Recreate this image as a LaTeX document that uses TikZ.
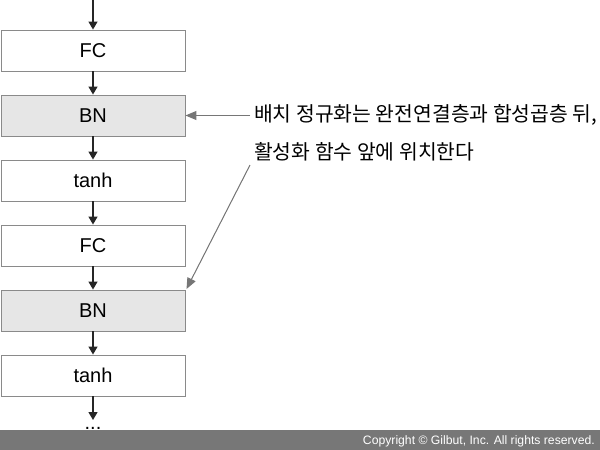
\documentclass[tikz,border=0pt]{standalone}
\usepackage{fontspec}
\setmainfont{Liberation Sans}
\newfontfamily\kr{Noto Sans CJK KR}
\usetikzlibrary{arrows.meta}
\definecolor{boxline}{HTML}{8A8A8A}
\definecolor{bnfill}{HTML}{E6E6E6}
\definecolor{annot}{HTML}{767676}
\definecolor{barcol}{HTML}{777777}
\begin{document}
\begin{tikzpicture}[x=1pt,y=-1pt,
  layer/.style={draw=boxline, line width=0.9pt, minimum width=184pt, minimum height=41pt, inner sep=0pt, font=\fontsize{20}{24}\selectfont, fill=white},
  bnlayer/.style={layer, fill=bnfill},
  flow/.style={-{Triangle[length=8pt,width=9pt]}, line width=1.3pt, draw=black!85},
  note/.style={-{Triangle[length=11pt,width=9pt]}, line width=1pt, draw=annot, fill=annot}
]
\useasboundingbox (0,0) rectangle (600,450);
\node[layer]   (fc1)  at (93,50.5)  {FC};
\node[bnlayer] (bn1)  at (93,115.5) {BN};
\node[layer]   (th1)  at (93,180.5) {tanh};
\node[layer]   (fc2)  at (93,245.5) {FC};
\node[bnlayer] (bn2)  at (93,310.5) {BN};
\node[layer]   (th2)  at (93,375.5) {tanh};
\coordinate (top) at (93,0);
\coordinate (end) at (93,420);
\node[font=\fontsize{20}{24}\selectfont, inner sep=0pt, anchor=base] (dots) at (93,429) {...};
\draw[flow] (top) -- (fc1.north);
\draw[flow] (fc1) -- (bn1);
\draw[flow] (bn1) -- (th1);
\draw[flow] (th1) -- (fc2);
\draw[flow] (fc2) -- (bn2);
\draw[flow] (bn2) -- (th2);
\draw[flow] (th2.south) -- (end);
\node[anchor=west, inner sep=0pt, font=\kr\fontsize{20.4}{24}\selectfont] (t1) at (254,115) {배치 정규화는 완전연결층과 합성곱층 뒤,};
\node[anchor=west, inner sep=0pt, font=\kr\fontsize{20.4}{24}\selectfont] (t2) at (254,152) {활성화 함수 앞에 위치한다};
\coordinate (n1) at (250,115.5);
\coordinate (n2) at (250,165);
\coordinate (bn2c) at (186.5,289);
\draw[note] (n1) -- (bn1.east);
\draw[note] (n2) -- (bn2c);
\fill[barcol] (0,430) rectangle (600,450);
\node[anchor=east, text=white, inner sep=0pt, font=\fontsize{12.2}{14}\selectfont] (copy) at (595,441) {Copyright © Gilbut, Inc. All rights reserved.};
\end{tikzpicture}
\end{document}
